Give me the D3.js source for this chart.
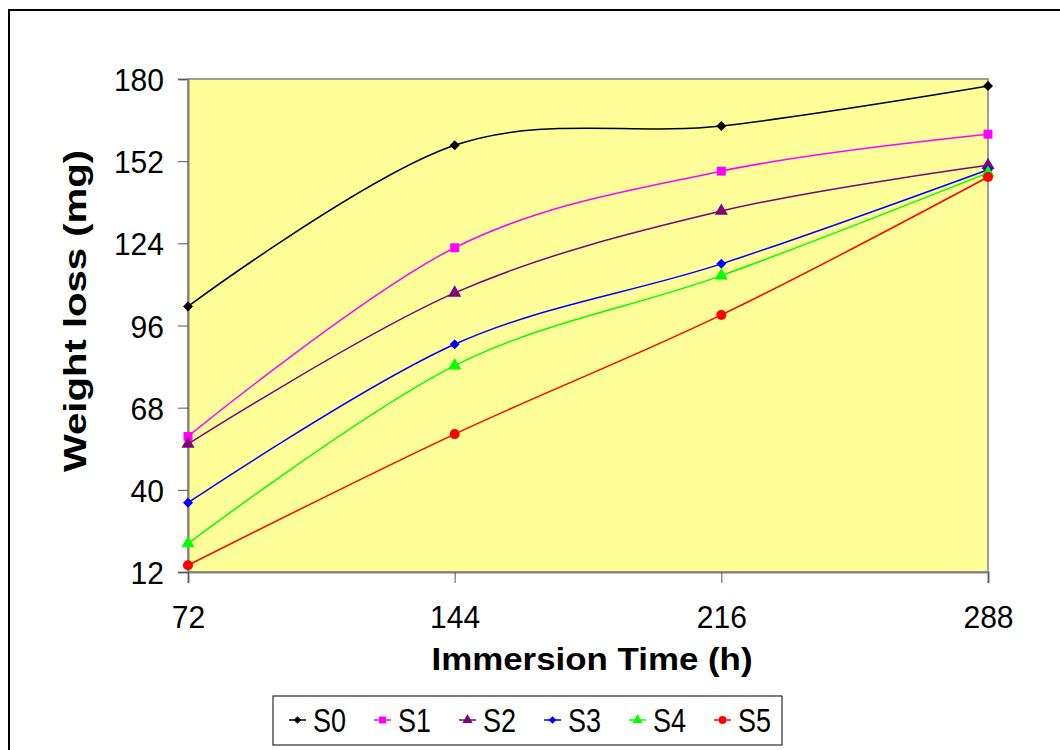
<!DOCTYPE html>
<html>
<head>
<meta charset="utf-8">
<script src="https://cdn.jsdelivr.net/npm/d3@7"></script>
<style>
  body { margin: 0; background: #fff; }
  svg { display: block; font-family: "Liberation Sans", Arial, sans-serif; }
</style>
</head>
<body>
<svg width="1060" height="750"></svg>
<script>
const svg = d3.select("svg");

// data
const hours = [72, 144, 216, 288];
const seriesNames = ["S0", "S1", "S2", "S3", "S4", "S5"];
const s0 = [102.5, 157.4, 164, 177.6];
const s1 = [58.2, 122.5, 148.6, 161.2];
const s2 = [55.6, 107.1, 135, 150.6];
const s3 = [35.6, 89.6, 117, 149.1];
const s4 = [21.7, 82.3, 113, 148];
const s5 = [14.3, 59, 99.6, 146.6];
const yTicks = [12, 40, 68, 96, 124, 152, 180];

const colors = ["#000000", "#FF00FF", "#800080", "#0000FF", "#00FF00", "#FF0000"];
// diamonds are drawn as squares turned 45 degrees
const symbols = [d3.symbolSquare, d3.symbolSquare, d3.symbolTriangle, d3.symbolSquare, d3.symbolTriangle, d3.symbolCircle];
const symAngles = [45, 0, 0, 45, 0, 0];
const symSizes = [50, 80, 75, 50, 75, 80];

const series = [s0, s1, s2, s3, s4, s5].map((vals, i) => ({
  name: seriesNames[i],
  color: colors[i],
  symbol: symbols[i],
  angle: symAngles[i],
  size: symSizes[i],
  points: vals.map((v, j) => ({x: hours[j], y: v}))
}));

const plotLeft = 188, plotRight = 988, plotTop = 79, plotBottom = 572;

const x = d3.scaleLinear().domain([72, 288]).range([plotLeft, plotRight]);
const y = d3.scaleLinear().domain([12, 180]).range([plotBottom, plotTop]);

// outer frame (runs off the page on right and bottom)
svg.append("rect")
  .attr("x", 9).attr("y", 10)
  .attr("width", 1080).attr("height", 780)
  .attr("fill", "none")
  .attr("stroke", "#000")
  .attr("stroke-width", 2);

// plot area
svg.append("rect")
  .attr("x", plotLeft).attr("y", plotTop)
  .attr("width", plotRight - plotLeft).attr("height", plotBottom - plotTop)
  .attr("fill", "#FFFF99")
  .attr("stroke", "#808080")
  .attr("stroke-width", 1.5);

// axes
const yAxis = d3.axisLeft(y).tickValues(yTicks).tickSize(10).tickPadding(14);
const gy = svg.append("g").attr("transform", `translate(${plotLeft},0)`).call(yAxis);
gy.select(".domain").attr("stroke", "#808080").attr("stroke-width", 2);
gy.selectAll(".tick line").attr("stroke", "#555");
gy.selectAll(".tick text")
  .attr("font-size", 32)
  .attr("fill", "#000")
  .attr("font-family", "Liberation Sans, Arial, sans-serif")
  .attr("dy", "0.36em")
  .attr("textLength", d => String(d).length * 16.7)
  .attr("lengthAdjust", "spacingAndGlyphs");

const xAxis = d3.axisBottom(x).tickValues(hours).tickSize(11).tickPadding(24);
const gx = svg.append("g").attr("transform", `translate(0,${plotBottom})`).call(xAxis);
gx.select(".domain").attr("stroke", "#808080").attr("stroke-width", 2);
gx.selectAll(".tick line").attr("stroke", "#555");
gx.selectAll(".tick text")
  .attr("font-size", 32)
  .attr("fill", "#000")
  .attr("font-family", "Liberation Sans, Arial, sans-serif")
  .attr("dy", "0.66em")
  .attr("textLength", d => String(d).length * 16.7)
  .attr("lengthAdjust", "spacingAndGlyphs");

// axis titles
svg.append("text")
  .attr("transform", "translate(86,311) rotate(-90)")
  .attr("text-anchor", "middle")
  .attr("font-size", 32)
  .attr("font-weight", "bold")
  .attr("textLength", 322)
  .attr("lengthAdjust", "spacingAndGlyphs")
  .text("Weight loss (mg)");

svg.append("text")
  .attr("x", 592).attr("y", 670)
  .attr("text-anchor", "middle")
  .attr("font-size", 32)
  .attr("font-weight", "bold")
  .attr("textLength", 321)
  .attr("lengthAdjust", "spacingAndGlyphs")
  .text("Immersion Time (h)");

// lines
const line = d3.line()
  .x(d => x(d.x))
  .y(d => y(d.y))
  .curve(d3.curveCardinal.tension(0));

const sg = svg.selectAll(".series")
  .data(series)
  .enter()
  .append("g")
  .attr("class", "series");

sg.append("path")
  .attr("d", d => line(d.points))
  .attr("fill", "none")
  .attr("stroke", d => d.color)
  .attr("stroke-width", 1.5);

sg.each(function(s) {
  d3.select(this).selectAll("path.mark")
    .data(s.points)
    .enter()
    .append("path")
    .attr("class", "mark")
    .attr("d", d3.symbol().type(s.symbol).size(s.size))
    .attr("transform", d => `translate(${x(d.x)},${y(d.y)}) rotate(${s.angle})`)
    .attr("fill", s.color);
});

// legend
const legendX = 273, legendY = 696;
svg.append("rect")
  .attr("x", legendX).attr("y", legendY)
  .attr("width", 509).attr("height", 49)
  .attr("fill", "#fff")
  .attr("stroke", "#000")
  .attr("stroke-width", 1);

const li = svg.selectAll(".legend-item")
  .data(series)
  .enter()
  .append("g")
  .attr("class", "legend-item")
  .attr("transform", (d, i) => `translate(${legendX + 16 + i * 85},${legendY + 24})`);

li.append("line")
  .attr("x1", 0).attr("x2", 17)
  .attr("stroke", d => d.color)
  .attr("stroke-width", 1.5);

li.append("path")
  .attr("d", d => d3.symbol().type(d.symbol).size(d.size * 0.6)())
  .attr("transform", d => `translate(8.5,0) rotate(${d.angle})`)
  .attr("fill", d => d.color);

li.append("text")
  .attr("x", 24).attr("y", 12)
  .attr("font-size", 33)
  .attr("textLength", 33)
  .attr("lengthAdjust", "spacingAndGlyphs")
  .text(d => d.name);
</script>
</body>
</html>
